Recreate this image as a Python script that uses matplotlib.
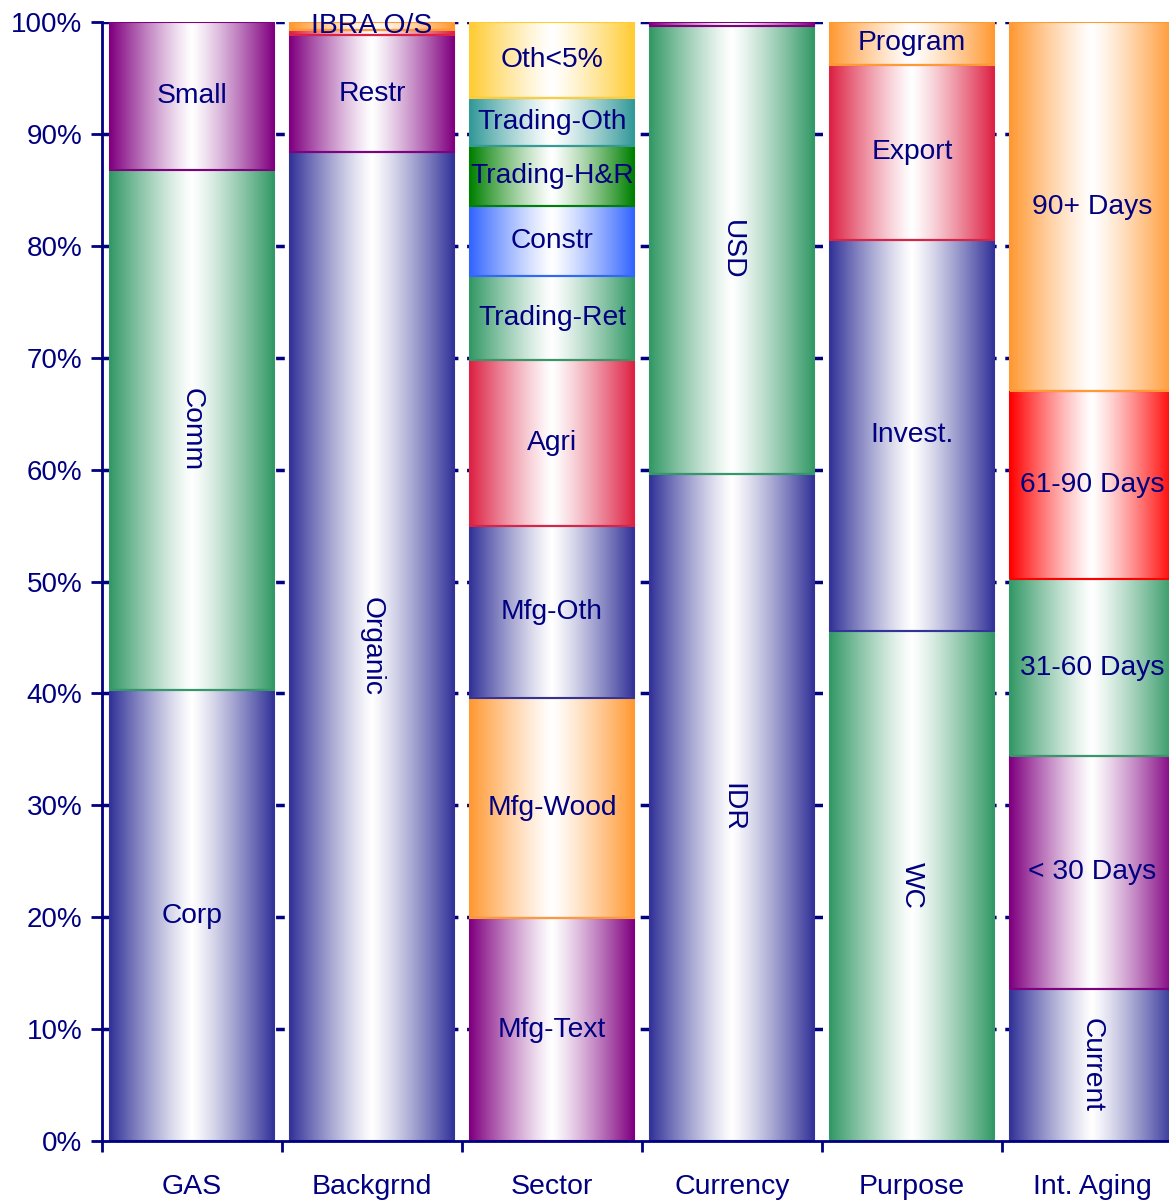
import numpy as np
import matplotlib
import matplotlib.pyplot as plt
from matplotlib.colors import to_rgb
from matplotlib.patches import Rectangle

matplotlib.use('agg')

# categories along the x axis
categories = ['GAS', 'Backgrnd', 'Sector', 'Currency', 'Purpose', 'Int. Aging']

# segment shares (%) per bar, bottom to top
gas_labels = ['Corp', 'Comm', 'Small']
gas_values = [40.3, 46.5, 13.2]

bg_labels = ['Organic', 'Restr', '', 'IBRA O/S']
bg_values = [88.4, 10.4, 0.5, 0.7]

sector_labels = ['Mfg-Text', 'Mfg-Wood', 'Mfg-Oth', 'Agri', 'Trading-Ret',
                 'Constr', 'Trading-H&R', 'Trading-Oth', 'Oth<5%']
sector_values = [19.9, 19.7, 15.4, 14.8, 7.5, 6.3, 5.3, 4.3, 6.8]

cur_labels = ['IDR', 'USD', '']
cur_values = [59.6, 40.0, 0.4]

purpose_labels = ['WC', 'Invest.', 'Export', 'Program']
purpose_values = [45.6, 34.9, 15.7, 3.8]

aging_labels = ['Current', '< 30 Days', '31-60 Days', '61-90 Days', '90+ Days']
aging_values = [13.6, 20.8, 15.8, 16.8, 33.0]

# labels written top-to-bottom
vertical = {'Comm', 'Organic', 'USD', 'IDR', 'WC', 'Current'}

NAVY = '#333399'
GREEN = '#339966'
PURPLE = '#800080'
ORANGE = '#FF9933'
CRIMSON = '#DD2244'
RED = '#FF0000'
GOLD = '#FFCC33'
TEAL = '#339999'
DKGREEN = '#008000'
BLUE = '#3366FF'

bars = [
    (gas_labels, gas_values, [NAVY, GREEN, PURPLE]),
    (bg_labels, bg_values, [NAVY, PURPLE, CRIMSON, ORANGE]),
    (sector_labels, sector_values, [PURPLE, ORANGE, NAVY, CRIMSON, GREEN,
                                    BLUE, DKGREEN, TEAL, GOLD]),
    (cur_labels, cur_values, [NAVY, GREEN, PURPLE]),
    (purpose_labels, purpose_values, [GREEN, NAVY, CRIMSON, ORANGE]),
    (aging_labels, aging_values, [NAVY, PURPLE, GREEN, RED, ORANGE]),
]

TEXT = '#000080'
plt.rcParams['font.family'] = ['Liberation Sans', 'DejaVu Sans']

fig = plt.figure(figsize=(11.69, 12), dpi=100)
ax = fig.add_axes([102 / 1169, 59 / 1200, 1 - 102 / 1169, 1119 / 1200])

width = 0.91
t = np.linspace(0, 1, 256)
w = np.abs(2 * t - 1) ** 1.2


def gradient(color):
    c = np.array(to_rgb(color))
    img = (1 - w)[:, None] * np.ones(3) + w[:, None] * c
    return img[None, :, :]


for i, (labels, values, colors) in enumerate(bars):
    bottom = 0.0
    x0, x1 = i - width / 2, i + width / 2
    for lab, val, col in zip(labels, values, colors):
        top = bottom + val
        ax.imshow(gradient(col), extent=[x0, x1, bottom, top], aspect='auto',
                  interpolation='bilinear', zorder=2)
        ax.add_patch(Rectangle((x0, bottom), width, val, fill=False,
                               edgecolor=col, lw=1.5, zorder=3))
        if lab:
            rot = -90 if lab in vertical else 0
            ax.text(i, bottom + val / 2, lab, ha='center', va='center',
                    rotation=rot, fontsize=20.3, color=TEXT, zorder=4)
        bottom = top

ax.set_xlim(-0.5, 5.428)
ax.set_ylim(0, 100)

# dashed gridlines that only show in the gaps between bars
for yv in range(10, 101, 10):
    ax.axhline(yv, color=TEXT, lw=2.5, ls=(0, (2.5, 2.5)), zorder=1)

ax.set_yticks(range(0, 101, 10))
ax.set_yticklabels([f'{v}%' for v in range(0, 101, 10)])
ax.set_xticks(range(len(categories)))
ax.set_xticklabels(categories)
ax.set_xticks(np.arange(-0.5, 5.5, 1), minor=True)

ax.tick_params(axis='y', direction='out', length=8, width=2, color=TEXT,
               labelcolor=TEXT, labelsize=20, pad=6)
ax.tick_params(axis='x', which='major', length=0, labelcolor=TEXT,
               labelsize=20.5, pad=24)
ax.tick_params(axis='x', which='minor', direction='out', length=8, width=2,
               color=TEXT)

for side in ['top', 'right']:
    ax.spines[side].set_visible(False)
for side in ['left', 'bottom']:
    ax.spines[side].set_color(TEXT)
    ax.spines[side].set_linewidth(2)
    ax.spines[side].set_zorder(5)

fig.savefig('out.png', dpi=100)
